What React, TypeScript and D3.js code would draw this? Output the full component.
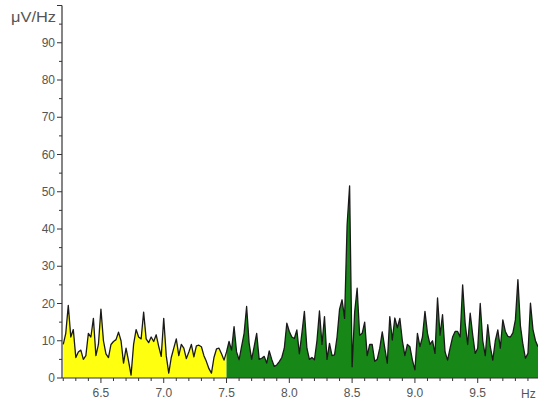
import React from "react";
import * as d3 from "d3";

// spectrum samples, 0.02 Hz apart starting at 6.20 Hz (μV/Hz)
const START_HZ = 6.2;
const STEP_HZ = 0.02;
const SPLIT_HZ = 7.5;
const amplitudes = [
  9, 12, 19.5, 11, 13, 5.5, 7, 7.5, 5, 6, // 6.20
  12, 11, 16, 6, 9, 18.5, 10, 6.5, 5.5, 9, // 6.40
  9.8, 10.3, 12.3, 10, 4, 8, 4.5, 0.8, 9, 13, // 6.60
  11, 10.5, 17.7, 10.5, 9.5, 11, 9.8, 11.6, 8.5, 5.8, // 6.80
  16, 6, 1.3, 5.5, 8, 10.5, 6, 9, 8, 5.2, // 7.00
  7, 9, 5.7, 8.6, 8.8, 8.4, 6, 4.4, 2.5, 1.3, // 7.20
  5.5, 7.8, 8, 6.5, 4.8, 7, 9.8, 7.5, 13.8, 7, // 7.40
  4.9, 8.5, 12, 19.2, 9.3, 5, 8.4, 12, 5, 5.3, // 7.60
  5.8, 4, 7.3, 5, 3.1, 3.5, 4.4, 5.5, 8, 14.7, // 7.80
  12.5, 11, 10.6, 12.9, 6.5, 12, 17.9, 8, 5, 5.5, // 8.00
  4.9, 10, 18, 9, 16.5, 5, 9.3, 6, 6.2, 11, // 8.20
  18.5, 21, 16, 41, 51.6, 3, 17.6, 24.1, 11.5, 12, // 8.40
  15, 6, 9, 9, 4.5, 5, 8, 12.4, 8, 4, // 8.60
  16.5, 10.2, 16.1, 13.5, 16, 10, 6, 9, 8.4, 4.8, // 8.80
  2.2, 12, 8.4, 11, 17.9, 12, 9, 10, 6.6, 21.5, // 9.00
  11.5, 17, 7, 4.8, 8, 11, 12.5, 12.5, 11, 25, // 9.20
  14.7, 9, 17.4, 11.6, 6.6, 8, 20, 10, 6, 14.3, // 9.40
  8.4, 4.8, 10, 12.9, 8, 15.6, 12.5, 11.2, 11, 12.1, // 9.60
  15.6, 26.4, 14, 9, 5.3, 6.6, 20.1, 13, 10, 8.4, // 9.80
];

const xMajorTicks = [6.5, 7.0, 7.5, 8.0, 8.5, 9.0, 9.5];
const yMajorTicks = [0, 10, 20, 30, 40, 50, 60, 70, 80, 90, 100];
const yUnit = "μV/Hz";
const xUnit = "Hz";

const W = 538;
const H = 409;
const FONT = "'Liberation Sans', Arial, sans-serif";

type Pt = { f: number; v: number };

export default function App() {
  const pts: Pt[] = amplitudes.map((v, i) => ({ f: +(START_HZ + i * STEP_HZ).toFixed(2), v }));

  const x = d3.scaleLinear().domain([6.19, 9.98]).range([62, 538]);
  const y = d3.scaleLinear().domain([0, 100]).range([378, 5.5]);

  const area = d3
    .area<Pt>()
    .x((d) => x(d.f))
    .y0(y(0))
    .y1((d) => y(d.v));
  const line = d3
    .line<Pt>()
    .x((d) => x(d.f))
    .y((d) => y(d.v));

  const low = pts.filter((d) => d.f <= SPLIT_HZ);
  const high = pts.filter((d) => d.f >= SPLIT_HZ);

  const xMinor = d3.range(62, 100).map((i) => i / 10).filter((f) => !xMajorTicks.some((m) => Math.abs(m - f) < 1e-6));
  const yMinor = d3.range(5, 100, 10);

  return (
    <div style={{ position: "absolute", left: 0, top: 0 }}>
      <svg width={W} height={H} style={{ display: "block", background: "#fff" }}>
        <path d={area(low) ?? ""} fill="#ffff10" />
        <path d={area(high) ?? ""} fill="#178817" />
        <path d={line(pts) ?? ""} fill="none" stroke="#1a1a1a" strokeWidth={1.3} strokeLinejoin="round" />

        {/* x axis */}
        <line x1={62} x2={538} y1={y(0)} y2={y(0)} stroke="#333" strokeWidth={1.2} />
        {xMinor.map((f) => (
          <line key={"xm" + f} x1={x(f)} x2={x(f)} y1={y(0)} y2={y(0) + 3} stroke="#333" />
        ))}
        {xMajorTicks.map((f) => (
          <g key={"xt" + f}>
            <line x1={x(f)} x2={x(f)} y1={y(0)} y2={y(0) + 5} stroke="#333" />
            <text x={x(f)} y={397} textAnchor="middle" fontFamily={FONT} fontSize={12} fill="#555">
              {f.toFixed(1)}
            </text>
          </g>
        ))}
        <text x={521} y={398} fontFamily={FONT} fontSize={12} fill="#555">
          {xUnit}
        </text>

        {/* y axis */}
        <line x1={62} x2={62} y1={y(0)} y2={y(100)} stroke="#333" strokeWidth={1.2} />
        {yMinor.map((v) => (
          <line key={"ym" + v} x1={59} x2={62} y1={y(v)} y2={y(v)} stroke="#333" />
        ))}
        {yMajorTicks.map((v) => (
          <g key={"yt" + v}>
            <line x1={57} x2={62} y1={y(v)} y2={y(v)} stroke="#333" />
            {v < 100 && (
              <text x={55} y={y(v)} dy="0.35em" textAnchor="end" fontFamily={FONT} fontSize={12} fill="#555">
                {v}
              </text>
            )}
          </g>
        ))}
        <text x={11} y={22} fontFamily={FONT} fontSize={14} fill="#555" textLength={45} lengthAdjust="spacingAndGlyphs">
          {yUnit}
        </text>
      </svg>
    </div>
  );
}
